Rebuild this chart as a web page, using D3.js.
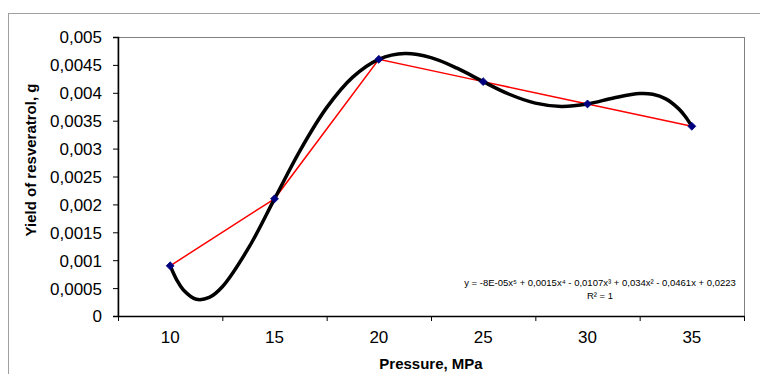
<!DOCTYPE html>
<html><head><meta charset="utf-8">
<script src="https://cdn.jsdelivr.net/npm/d3@7"></script>
<style>html,body{margin:0;padding:0;background:#fff;}svg{display:block;}</style>
</head><body>
<svg id="c" width="760" height="374"></svg>
<script>
// ---- data ----
const categories = ["10", "15", "20", "25", "30", "35"];
const yieldValues = [0.0009, 0.0021, 0.0046, 0.0042, 0.0038, 0.0034];
const yTicks = [0, 0.0005, 0.001, 0.0015, 0.002, 0.0025, 0.003, 0.0035, 0.004, 0.0045, 0.005];
// polynomial trendline (x = category position 1..6)
const trendPos = [1.0, 1.0625, 1.125, 1.25, 1.375, 1.5, 1.75, 2.0, 2.25, 2.5, 2.75, 3.0, 3.25, 3.5, 3.75, 4.0, 4.25, 4.5, 4.75, 5.0, 5.25, 5.5, 5.625, 5.75, 5.875, 5.9375, 6.0];
const trendVal = [0.0009, 0.000649, 0.000471, 0.000300, 0.000333, 0.000524, 0.001215, 0.0021, 0.002983, 0.003734, 0.004281, 0.0046, 0.004703, 0.004630, 0.004441, 0.0042, 0.003974, 0.003815, 0.003756, 0.0038, 0.003907, 0.003987, 0.003973, 0.003891, 0.003712, 0.003575, 0.0034];
const equationText = "y = -8E-05x\u2075 + 0,0015x\u2074 - 0,0107x\u00B3 + 0,034x\u00B2 - 0,0461x + 0,0223";
const r2Text = "R\u00B2 = 1";
const xTitle = "Pressure, MPa";
const yTitle = "Yield of resveratrol, g";

// ---- layout ----
const svg = d3.select("#c");
const L = 118, R = 744, T = 37, B = 316;
const font = "'Liberation Sans', Arial, sans-serif";

// outer chart border
svg.append("rect").attr("x", 8.5).attr("y", 13.5).attr("width", 800).attr("height", 400)
  .attr("fill", "#fff").attr("stroke", "#a0a0a0").attr("stroke-width", 1);

const x = d3.scaleBand().domain(categories).range([L, R]).padding(0);
const xPos = d3.scaleLinear().domain([0.5, categories.length + 0.5]).range([L, R]);
const y = d3.scaleLinear().domain([0, 0.005]).range([B, T]);

// plot area border (gray)
svg.append("rect").attr("x", L).attr("y", T + 0.5).attr("width", R - L + 0.5).attr("height", B - T)
  .attr("fill", "#fff").attr("stroke", "#808080").attr("stroke-width", 1);

const loc = d3.formatLocale({decimal: ",", thousands: " ", grouping: [3], currency: ["", ""]});
const fmt = loc.format("~f");

// y axis
const gy = svg.append("g").attr("transform", `translate(${L},0)`)
  .call(d3.axisLeft(y).tickValues(yTicks).tickFormat(d => fmt(+d.toFixed(6))).tickSize(5).tickPadding(11));
gy.select(".domain").attr("stroke", "#000").attr("stroke-width", 1.5);
gy.selectAll(".tick line").attr("stroke", "#000");
gy.selectAll(".tick text").attr("font-family", font).attr("font-size", 17).attr("fill", "#000").attr("dy", "0.35em");

// x axis: tick marks at category boundaries
const gxt = svg.append("g").attr("transform", `translate(0,${B})`)
  .call(d3.axisBottom(xPos).tickValues(d3.range(0.5, categories.length + 1, 1)).tickFormat("").tickSize(5).tickSizeOuter(0));
gxt.select(".domain").attr("stroke", "#000").attr("stroke-width", 1.5);
gxt.selectAll(".tick line").attr("stroke", "#000");
// labels centred in categories
const gx = svg.append("g").attr("transform", `translate(0,${B})`)
  .call(d3.axisBottom(x).tickSize(0).tickPadding(15));
gx.select(".domain").remove();
gx.selectAll(".tick text").attr("font-family", font).attr("font-size", 17).attr("fill", "#000");

// red line through data
const pts = yieldValues.map((v, i) => [x(categories[i]) + x.bandwidth() / 2, y(v)]);
svg.append("path").attr("d", d3.line()(pts)).attr("fill", "none").attr("stroke", "#ff0000").attr("stroke-width", 1.5);

// trendline
const tpts = trendPos.map((p, i) => [xPos(p), y(trendVal[i])]);
svg.append("path").attr("d", d3.line().curve(d3.curveCatmullRom.alpha(0.5))(tpts))
  .attr("fill", "none").attr("stroke", "#000").attr("stroke-width", 3.5).attr("stroke-linejoin", "round");

// markers (diamonds)
svg.selectAll("path.mk").data(pts).enter().append("path").attr("class", "mk")
  .attr("d", d3.symbol().type(d3.symbolDiamond2).size(40))
  .attr("transform", d => `translate(${d[0]},${d[1]})`)
  .attr("fill", "#000080").attr("stroke", "#000080").attr("stroke-width", 0.8);

// equation
svg.append("text").attr("x", 600).attr("y", 286).attr("text-anchor", "middle")
  .attr("font-family", font).attr("font-size", 9.5).attr("fill", "#000").text(equationText);
svg.append("text").attr("x", 600).attr("y", 299).attr("text-anchor", "middle")
  .attr("font-family", font).attr("font-size", 9.5).attr("fill", "#000").text(r2Text);

// axis titles
svg.append("text").attr("x", (L + R) / 2).attr("y", 369).attr("text-anchor", "middle")
  .attr("font-family", font).attr("font-size", 15).attr("font-weight", "bold").attr("fill", "#000").text(xTitle);
svg.append("text").attr("transform", "translate(36,160) rotate(-90)").attr("text-anchor", "middle")
  .attr("font-family", font).attr("font-size", 15).attr("font-weight", "bold").attr("fill", "#000").text(yTitle);
</script>
</body></html>
